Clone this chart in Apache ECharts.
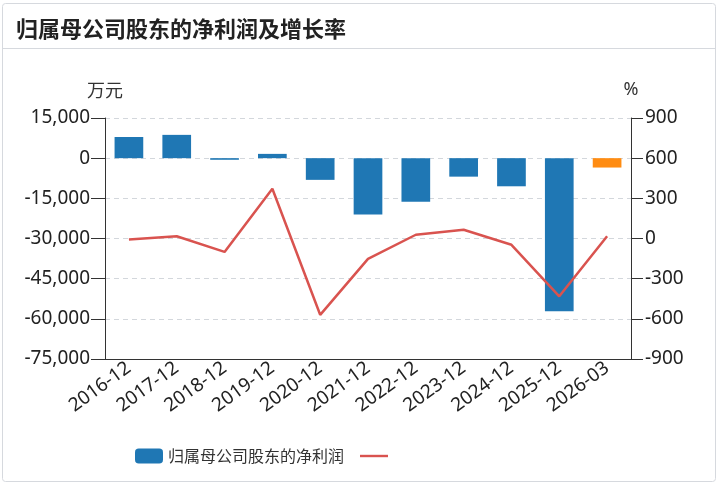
<!DOCTYPE html>
<html>
<head>
<meta charset="utf-8">
<script src="https://cdn.jsdelivr.net/npm/echarts@6/dist/echarts.min.js"></script>
<style>
  html, body { margin: 0; padding: 0; background: #fff; }
  #main { width: 719px; height: 485px; }
</style>
</head>
<body>
<div id="main"></div>
<script>
// 数据
var periods = ['2016-12', '2017-12', '2018-12', '2019-12', '2020-12', '2021-12',
               '2022-12', '2023-12', '2024-12', '2025-12', '2026-03'];
var netProfit = [7900, 8700, -600, 1600, -8100, -21000, -16300, -6900, -10500, -57200, -3500];
var growthRate = [-8, 17, -100, 372, -570, -152, 28, 65, -47, -432, 17];
var leftTicks = { min: -75000, max: 15000, interval: 15000 };
var rightTicks = { min: -900, max: 900, interval: 300 };

var chart = echarts.init(document.getElementById('main'));

var barData = netProfit.map(function (v, i) {
    // 最后一期(季度)用橙色
    if (i === netProfit.length - 1) {
        return { value: v, itemStyle: { color: '#ff8c12' } };
    }
    return v;
});

var option = {
    animation: false,
    textStyle: { fontFamily: 'Noto Sans, Noto Sans CJK SC, sans-serif' },
    title: {
        text: '归属母公司股东的净利润及增长率',
        left: 11,
        top: 13,
        textStyle: {
            fontSize: 22,
            fontWeight: 'bold',
            color: '#222',
            fontFamily: 'Noto Sans CJK SC, sans-serif'
        }
    },
    graphic: [
        {
            type: 'rect',
            shape: { x: 2.5, y: 3.5, width: 713, height: 478, r: 3 },
            style: { fill: 'none', stroke: '#d6d9de', lineWidth: 1 },
            silent: true
        },
        {
            type: 'line',
            shape: { x1: 3, y1: 48.5, x2: 715, y2: 48.5 },
            style: { stroke: '#d6d9de', lineWidth: 1 },
            silent: true
        }
    ],
    legend: {
        left: 130,
        top: 443,
        itemWidth: 28,
        itemHeight: 15,
        itemGap: 16,
        formatter: function (name) {
            return name === '增长率' ? '' : name;
        },
        textStyle: {
            fontSize: 16,
            color: '#333',
            fontFamily: 'Noto Sans CJK SC, sans-serif'
        },
        data: [
            { name: '归属母公司股东的净利润', icon: 'roundRect' },
            // 仅画一条线作为图例标记
            { name: '增长率', icon: 'path://M0,0 M28,15 M0,6.3 L28,6.3 L28,8.7 L0,8.7 Z' }
        ]
    },
    grid: {
        left: 105,
        right: 88,
        top: 118,
        bottom: 126
    },
    xAxis: {
        type: 'category',
        data: periods,
        axisLine: { onZero: false, lineStyle: { color: '#333', width: 1 } },
        axisTick: { alignWithLabel: true, length: 9, lineStyle: { color: '#333' } },
        axisLabel: {
            rotate: 36,
            fontSize: 19,
            color: '#222',
            margin: 7
        }
    },
    yAxis: [
        {
            type: 'value',
            name: '万元',
            nameGap: 19,
            nameTextStyle: { fontSize: 18, color: '#333', fontFamily: 'Noto Sans CJK SC, sans-serif' },
            min: leftTicks.min,
            max: leftTicks.max,
            interval: leftTicks.interval,
            axisLine: { show: true, lineStyle: { color: '#333' } },
            axisTick: { show: true, length: 14, lineStyle: { color: '#333' } },
            axisLabel: {
                fontSize: 19,
                color: '#222',
                margin: 15,
                formatter: function (v) { return v.toLocaleString('en-US'); }
            },
            splitLine: { lineStyle: { type: [5, 4], color: '#d3d7dc' } }
        },
        {
            type: 'value',
            name: '%',
            nameGap: 19,
            nameTextStyle: { fontSize: 18, color: '#333' },
            min: rightTicks.min,
            max: rightTicks.max,
            interval: rightTicks.interval,
            axisLine: { show: true, lineStyle: { color: '#333' } },
            axisTick: { show: true, length: 12, lineStyle: { color: '#333' } },
            axisLabel: { fontSize: 19, color: '#222', margin: 14 },
            splitLine: { show: false }
        }
    ],
    series: [
        {
            name: '归属母公司股东的净利润',
            type: 'bar',
            yAxisIndex: 0,
            barWidth: '60%',
            itemStyle: { color: '#1f77b4' },
            data: barData
        },
        {
            name: '增长率',
            type: 'line',
            yAxisIndex: 1,
            symbol: 'none',
            lineStyle: { color: '#d9534f', width: 2.5 },
            itemStyle: { color: '#d9534f' },
            data: growthRate
        }
    ]
};

chart.setOption(option);
</script>
</body>
</html>
